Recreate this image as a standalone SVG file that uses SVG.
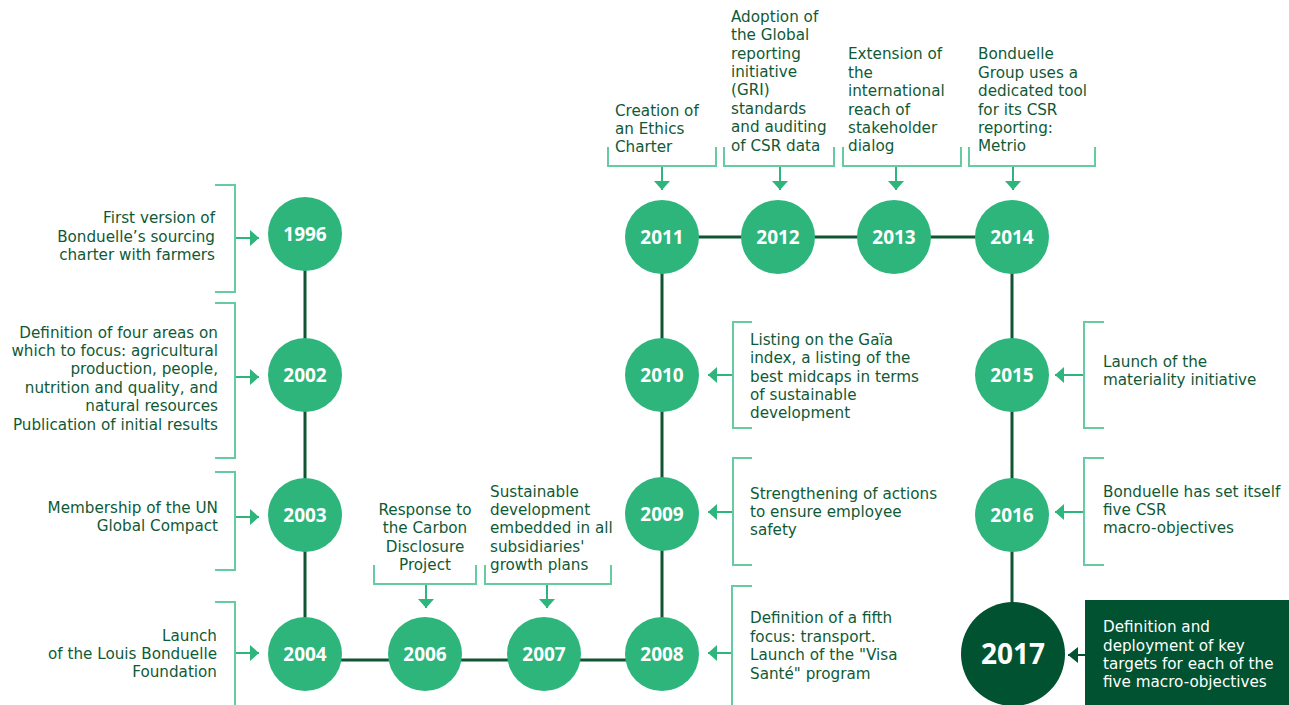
<svg xmlns="http://www.w3.org/2000/svg" width="1289" height="705" viewBox="0 0 1289 705">
  <style>
    .yr { fill: #2db57c; }
    .yt { font-family: "Open Sans", "Liberation Sans", sans-serif; font-weight: 700; font-size: 19px; fill: #ffffff; text-anchor: middle; }
    .tx { font-family: "DejaVu Sans", "Open Sans", sans-serif; font-weight: 400; font-size: 15.2px; fill: #0f5a36; }
    .end { text-anchor: end; }
    .mid { text-anchor: middle; }
    .br { fill: none; stroke: #66cba0; stroke-width: 2; }
    .ar { fill: none; stroke: #2db57c; stroke-width: 2; marker-end: url(#head); }
    .tl { fill: none; stroke: #0e5631; stroke-width: 3; }
  </style>
  <defs>
    <marker id="head" markerUnits="userSpaceOnUse" viewBox="0 -8 9 16" refX="9" refY="0" markerWidth="9" markerHeight="16" orient="auto">
      <path d="M0,-8 L9,0 L0,8 z" fill="#2db57c"/>
    </marker>
    <marker id="headDark" markerUnits="userSpaceOnUse" viewBox="0 -8 10 16" refX="10" refY="0" markerWidth="10" markerHeight="16" orient="auto">
      <path d="M0,-8 L10,0 L0,8 z" fill="#005230"/>
    </marker>
  </defs>

  <!-- timeline path and annotation arrows -->
  <g id="connectors">
    <path class="tl" d="M305,234 V654"/>
    <path class="tl" d="M305,660 H662"/>
    <path class="tl" d="M662,654 V237"/>
    <path class="tl" d="M662,237 H1012"/>
    <path class="tl" d="M1012,237 V620"/>

    <path class="ar" d="M235,238 H259"/>
    <path class="ar" d="M235,377 H259"/>
    <path class="ar" d="M235,517 H259"/>
    <path class="ar" d="M235,653 H259"/>

    <path class="ar" d="M662,166 V190"/>
    <path class="ar" d="M780,166 V190"/>
    <path class="ar" d="M896,166 V190"/>
    <path class="ar" d="M1013,166 V190"/>

    <path class="ar" d="M426,584 V608"/>
    <path class="ar" d="M547,584 V608"/>

    <path class="ar" d="M733,375 H708"/>
    <path class="ar" d="M733,512 H708"/>
    <path class="ar" d="M732,653 H708"/>

    <path class="ar" d="M1084,375 H1055"/>
    <path class="ar" d="M1084,512 H1055"/>

    <path d="M1086,655 H1068" fill="none" stroke="#005230" stroke-width="2" marker-end="url(#headDark)"/>
  </g>

  <g id="n1996">
    <path class="br" d="M215,185 H235 V292 H215"/>
    <text class="tx end"><tspan x="215" y="223">First version of</tspan><tspan x="215" y="242">Bonduelle’s sourcing</tspan><tspan x="215" y="260">charter with farmers</tspan></text>
    <circle class="yr" cx="305" cy="234" r="37"/>
    <text class="yt" x="305" y="241">1996</text>
  </g>

  <g id="n2002">
    <path class="br" d="M215,303 H235 V458 H215"/>
    <text class="tx end"><tspan x="218" y="338">Definition of four areas on</tspan><tspan x="218" y="356">which to focus: agricultural</tspan><tspan x="218" y="374">production, people,</tspan><tspan x="218" y="393">nutrition and quality, and</tspan><tspan x="218" y="411">natural resources</tspan><tspan x="218" y="430">Publication of initial results</tspan></text>
    <circle class="yr" cx="305" cy="375" r="37"/>
    <text class="yt" x="305" y="382">2002</text>
  </g>

  <g id="n2003">
    <path class="br" d="M215,472 H235 V570 H215"/>
    <text class="tx end"><tspan x="218" y="513">Membership of the UN</tspan><tspan x="218" y="531">Global Compact</tspan></text>
    <circle class="yr" cx="305" cy="515" r="37"/>
    <text class="yt" x="305" y="522">2003</text>
  </g>

  <g id="n2004">
    <path class="br" d="M215,602 H235 V705"/>
    <text class="tx end"><tspan x="217" y="641">Launch</tspan><tspan x="217" y="659">of the Louis Bonduelle</tspan><tspan x="217" y="677">Foundation</tspan></text>
    <circle class="yr" cx="305" cy="654" r="37"/>
    <text class="yt" x="305" y="661">2004</text>
  </g>

  <g id="n2006">
    <path class="br" d="M374,565 V584 H476 V565"/>
    <text class="tx mid"><tspan x="425" y="515">Response to</tspan><tspan x="425" y="533">the Carbon</tspan><tspan x="425" y="552">Disclosure</tspan><tspan x="425" y="570">Project</tspan></text>
    <circle class="yr" cx="425" cy="654" r="37"/>
    <text class="yt" x="425" y="661">2006</text>
  </g>

  <g id="n2007">
    <path class="br" d="M485,565 V584 H611 V565"/>
    <text class="tx"><tspan x="490" y="497">Sustainable</tspan><tspan x="490" y="515">development</tspan><tspan x="490" y="533">embedded in all</tspan><tspan x="490" y="552">subsidiaries'</tspan><tspan x="490" y="570">growth plans</tspan></text>
    <circle class="yr" cx="544" cy="654" r="37"/>
    <text class="yt" x="544" y="661">2007</text>
  </g>

  <g id="n2008">
    <path class="br" d="M752,586 H732 V705"/>
    <text class="tx"><tspan x="750" y="623">Definition of a fifth</tspan><tspan x="750" y="642">focus: transport.</tspan><tspan x="750" y="660">Launch of the "Visa</tspan><tspan x="750" y="679">Santé" program</tspan></text>
    <circle class="yr" cx="662" cy="654" r="37"/>
    <text class="yt" x="662" y="661">2008</text>
  </g>

  <g id="n2009">
    <path class="br" d="M752,458 H733 V565 H752"/>
    <text class="tx"><tspan x="750" y="499">Strengthening of actions</tspan><tspan x="750" y="517">to ensure employee</tspan><tspan x="750" y="535">safety</tspan></text>
    <circle class="yr" cx="662" cy="514" r="37"/>
    <text class="yt" x="662" y="521">2009</text>
  </g>

  <g id="n2010">
    <path class="br" d="M752,322 H733 V428 H752"/>
    <text class="tx"><tspan x="750" y="345">Listing on the Gaïa</tspan><tspan x="750" y="363">index, a listing of the</tspan><tspan x="750" y="382">best midcaps in terms</tspan><tspan x="750" y="400">of sustainable</tspan><tspan x="750" y="418">development</tspan></text>
    <circle class="yr" cx="662" cy="375" r="37"/>
    <text class="yt" x="662" y="382">2010</text>
  </g>

  <g id="n2011">
    <path class="br" d="M608,147 V166 H716 V147"/>
    <text class="tx"><tspan x="615" y="116">Creation of</tspan><tspan x="615" y="134">an Ethics</tspan><tspan x="615" y="152">Charter</tspan></text>
    <circle class="yr" cx="662" cy="237" r="37"/>
    <text class="yt" x="662" y="244">2011</text>
  </g>

  <g id="n2012">
    <path class="br" d="M724,147 V166 H834 V147"/>
    <text class="tx"><tspan x="731" y="22">Adoption of</tspan><tspan x="731" y="40">the Global</tspan><tspan x="731" y="59">reporting</tspan><tspan x="731" y="77">initiative</tspan><tspan x="731" y="95">(GRI)</tspan><tspan x="731" y="114">standards</tspan><tspan x="731" y="132">and auditing</tspan><tspan x="731" y="151">of CSR data</tspan></text>
    <circle class="yr" cx="778" cy="237" r="37"/>
    <text class="yt" x="778" y="244">2012</text>
  </g>

  <g id="n2013">
    <path class="br" d="M843,147 V166 H961 V147"/>
    <text class="tx"><tspan x="848" y="59">Extension of</tspan><tspan x="848" y="78">the</tspan><tspan x="848" y="96">international</tspan><tspan x="848" y="115">reach of</tspan><tspan x="848" y="133">stakeholder</tspan><tspan x="848" y="151">dialog</tspan></text>
    <circle class="yr" cx="894" cy="237" r="37"/>
    <text class="yt" x="894" y="244">2013</text>
  </g>

  <g id="n2014">
    <path class="br" d="M969,147 V166 H1095 V147"/>
    <text class="tx"><tspan x="978" y="59">Bonduelle</tspan><tspan x="978" y="78">Group uses a</tspan><tspan x="978" y="96">dedicated tool</tspan><tspan x="978" y="115">for its CSR</tspan><tspan x="978" y="133">reporting:</tspan><tspan x="978" y="151">Metrio</tspan></text>
    <circle class="yr" cx="1012" cy="237" r="37"/>
    <text class="yt" x="1012" y="244">2014</text>
  </g>

  <g id="n2015">
    <path class="br" d="M1104,322 H1084 V428 H1104"/>
    <text class="tx"><tspan x="1103" y="367">Launch of the</tspan><tspan x="1103" y="385">materiality initiative</tspan></text>
    <circle class="yr" cx="1012" cy="375" r="37"/>
    <text class="yt" x="1012" y="382">2015</text>
  </g>

  <g id="n2016">
    <path class="br" d="M1104,458 H1084 V565 H1104"/>
    <text class="tx"><tspan x="1103" y="497">Bonduelle has set itself</tspan><tspan x="1103" y="515">five CSR</tspan><tspan x="1103" y="533">macro-objectives</tspan></text>
    <circle class="yr" cx="1012" cy="515" r="37"/>
    <text class="yt" x="1012" y="522">2016</text>
  </g>

  <g id="n2017">
    <rect x="1085" y="600" width="204" height="105" fill="#005230"/>
    <text class="tx" style="fill:#ffffff"><tspan x="1103" y="632">Definition and</tspan><tspan x="1103" y="651">deployment of key</tspan><tspan x="1103" y="669">targets for each of the</tspan><tspan x="1103" y="687">five macro-objectives</tspan></text>
    <circle cx="1013" cy="654" r="52" fill="#005230"/>
    <text class="yt" x="1013" y="664" style="font-size:28px">2017</text>
  </g>
</svg>
